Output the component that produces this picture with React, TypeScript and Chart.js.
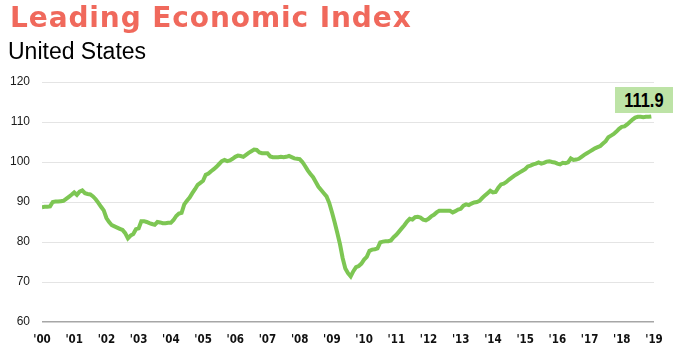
import React, { useEffect, useRef } from "react";
import { Chart, registerables } from "chart.js";

Chart.register(...registerables);

// Monthly Leading Economic Index values (Jan..Dec) per year
const y2000 = [88.7, 88.8, 88.8, 88.9, 90.0, 90.1, 90.1, 90.2, 90.3, 90.8, 91.3, 91.8];
const y2001 = [92.4, 91.8, 92.6, 92.9, 92.2, 92.0, 91.9, 91.4, 90.7, 89.8, 88.8, 87.9];
const y2002 = [86.0, 85.0, 84.2, 83.9, 83.6, 83.3, 83.0, 82.2, 80.9, 81.6, 82.0, 83.2];
const y2003 = [83.4, 85.2, 85.2, 85.0, 84.7, 84.5, 84.3, 85.0, 84.9, 84.7, 84.7, 84.8];
const y2004 = [84.8, 85.5, 86.5, 87.1, 87.3, 89.4, 90.3, 91.1, 92.2, 93.2, 94.3, 94.8];
const y2005 = [95.3, 96.8, 97.1, 97.7, 98.2, 98.8, 99.5, 100.2, 100.5, 100.2, 100.4, 100.8];
const y2006 = [101.3, 101.6, 101.5, 101.3, 101.8, 102.3, 102.7, 103.1, 103.0, 102.4, 102.2, 102.2];
const y2007 = [102.2, 101.4, 101.2, 101.2, 101.2, 101.3, 101.2, 101.3, 101.5, 101.2, 100.9, 100.8];
const y2008 = [100.7, 100.0, 99.0, 97.9, 97.0, 96.2, 95.0, 93.8, 93.0, 92.2, 91.4, 89.8];
const y2009 = [87.5, 85.0, 82.3, 79.5, 76.0, 73.4, 72.2, 71.4, 72.7, 73.7, 74.0, 74.6];
const y2010 = [75.6, 76.3, 77.8, 78.1, 78.2, 78.4, 79.9, 80.1, 80.2, 80.2, 80.4, 81.2];
const y2011 = [81.8, 82.6, 83.4, 84.2, 85.1, 85.8, 85.6, 86.2, 86.3, 86.1, 85.6, 85.4];
const y2012 = [85.8, 86.4, 86.8, 87.4, 87.8, 87.8, 87.8, 87.8, 87.8, 87.4, 87.7, 88.1];
const y2013 = [88.3, 89.1, 89.4, 89.2, 89.6, 89.9, 90.0, 90.3, 91.0, 91.6, 92.2, 92.8];
const y2014 = [92.4, 92.5, 93.6, 94.4, 94.6, 95.0, 95.6, 96.1, 96.6, 97.0, 97.4, 97.8];
const y2015 = [98.2, 98.9, 99.1, 99.4, 99.6, 99.9, 99.6, 99.8, 100.1, 100.2, 100.0, 99.9];
const y2016 = [99.6, 99.4, 99.8, 99.7, 99.9, 100.9, 100.5, 100.6, 100.8, 101.3, 101.8, 102.2];
const y2017 = [102.6, 103.0, 103.4, 103.7, 104.0, 104.6, 105.2, 106.2, 106.6, 107.0, 107.6, 108.3];
const y2018 = [108.8, 108.9, 109.4, 110.0, 110.6, 111.1, 111.3, 111.3, 111.2, 111.3, 111.3, 111.4];

const yearValues = [
  y2000, y2001, y2002, y2003, y2004, y2005, y2006, y2007, y2008, y2009,
  y2010, y2011, y2012, y2013, y2014, y2015, y2016, y2017, y2018,
];

const yearLabels = [
  "'00", "'01", "'02", "'03", "'04", "'05", "'06", "'07", "'08", "'09",
  "'10", "'11", "'12", "'13", "'14", "'15", "'16", "'17", "'18", "'19",
];

const yTicks = [60, 70, 80, 90, 100, 110, 120];
const latestLabel = "111.9";

export default function App() {
  const ref = useRef<HTMLCanvasElement | null>(null);

  useEffect(() => {
    if (!ref.current) return;
    const points: { x: number; y: number }[] = [];
    yearValues.forEach((arr, yi) => {
      arr.forEach((v, mi) => points.push({ x: yi * 12 + mi, y: v }));
    });

    const chart = new Chart(ref.current, {
      type: "line",
      data: {
        datasets: [
          {
            data: points,
            borderColor: "#7dc653",
            borderWidth: 4,
            pointRadius: 0,
            tension: 0,
            fill: false,
          },
        ],
      },
      options: {
        animation: false,
        responsive: false,
        maintainAspectRatio: false,
        layout: { padding: { left: 0, top: 82, right: 28, bottom: 0 } },
        plugins: { legend: { display: false }, tooltip: { enabled: false }, title: { display: false } },
        scales: {
          x: {
            type: "linear",
            min: 0,
            max: (yearLabels.length - 1) * 12,
            grid: { display: false, drawTicks: false },
            border: { display: false },
            afterFit: (scale: any) => {
              scale.height = 32;
            },
            afterBuildTicks: (scale: any) => {
              scale.ticks = yearLabels.map((_, i) => ({ value: i * 12 }));
            },
            ticks: {
              autoSkip: false,
              maxRotation: 0,
              padding: 11,
              color: "#111",
              font: { family: "'DejaVu Sans Condensed', sans-serif", size: 11.5, weight: "bold" },
              callback: (v: any) => yearLabels[Math.round(Number(v) / 12)] ?? "",
            },
          },
          y: {
            min: yTicks[0],
            max: yTicks[yTicks.length - 1],
            afterFit: (scale: any) => {
              scale.width = 42;
            },
            afterBuildTicks: (scale: any) => {
              scale.ticks = yTicks.map((v) => ({ value: v }));
            },
            grid: {
              drawTicks: false,
              color: (ctx: any) => (ctx.tick && ctx.tick.value === 60 ? "#a6a6a6" : "#e4e4e4"),
              lineWidth: (ctx: any) => (ctx.tick && ctx.tick.value === 60 ? 1.5 : 1),
            },
            border: { display: false },
            ticks: {
              padding: 12,
              color: "#1a1a1a",
              font: { family: "'Liberation Sans', Arial, sans-serif", size: 12 },
            },
          },
        },
      },
    });
    return () => chart.destroy();
  }, []);

  return (
    <div style={{ position: "absolute", left: 0, top: 0, width: 682, height: 354, background: "#fff", overflow: "hidden" }}>
      <canvas ref={ref} width={682} height={354} style={{ position: "absolute", left: 0, top: 0, width: 682, height: 354 }} />
      <div
        style={{
          position: "absolute",
          left: 10,
          top: 4,
          fontFamily: "'DejaVu Sans', sans-serif",
          fontWeight: "bold",
          fontSize: 28,
          lineHeight: "27px",
          letterSpacing: 0.9,
          color: "#f0695c",
          whiteSpace: "nowrap",
        }}
      >
        Leading Economic Index
      </div>
      <div
        style={{
          position: "absolute",
          left: 8,
          top: 40,
          fontFamily: "'Liberation Sans', Arial, sans-serif",
          fontSize: 23,
          lineHeight: "23px",
          color: "#000",
          whiteSpace: "nowrap",
        }}
      >
        United States
      </div>
      <div
        style={{
          position: "absolute",
          left: 615,
          top: 87,
          width: 58,
          height: 26,
          background: "#bde3a6",
          textAlign: "center",
          color: "#000",
        }}
      >
        <span
          style={{
            display: "inline-block",
            fontFamily: "'Liberation Sans', Arial, sans-serif",
            fontWeight: "bold",
            fontSize: 20,
            lineHeight: "26px",
            transform: "scaleX(0.82)",
          }}
        >
          {latestLabel}
        </span>
      </div>
    </div>
  );
}
